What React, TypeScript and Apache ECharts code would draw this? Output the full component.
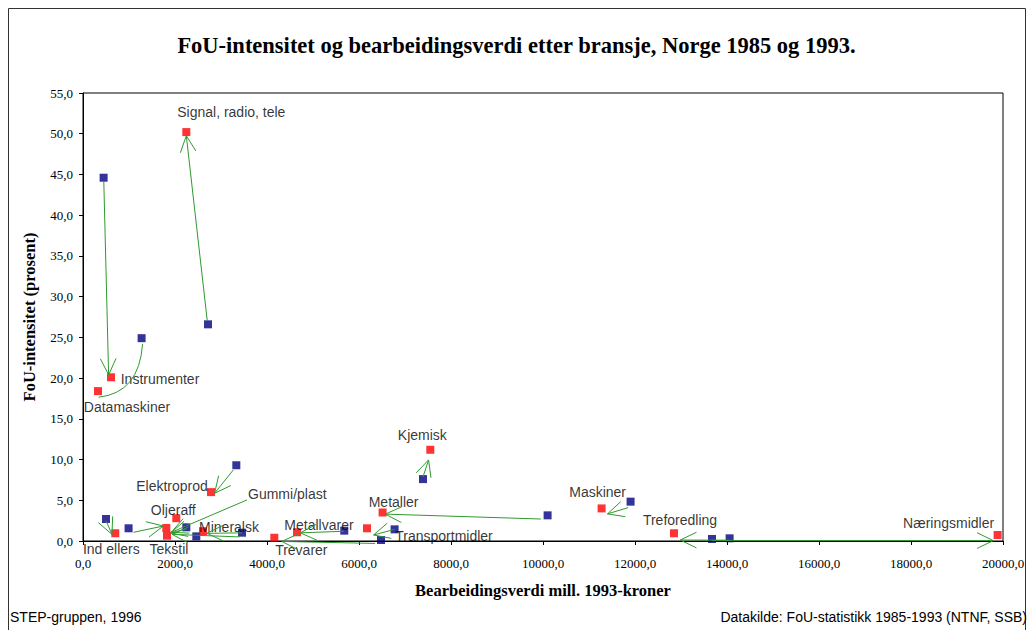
import React, { useEffect, useRef } from "react";
import * as echarts from "echarts";

// Bransjer (categories)
const categories = [
  "Signal, radio, tele",
  "Instrumenter",
  "Datamaskiner",
  "Kjemisk",
  "Elektroprod",
  "Gummi/plast",
  "Oljeraff",
  "Ind ellers",
  "Tekstil",
  "Mineralsk",
  "Metallvarer",
  "Trevarer",
  "Metaller",
  "Transportmidler",
  "Maskiner",
  "Treforedling",
  "Næringsmidler",
];

// 1993 (red): bearbeidingsverdi (mill. kr) and FoU-intensitet (%)
const x1993 = [2246, 609, 326, 7550, 2783, 1811, 2028, 702, 1826, 2609, 4652, 4159, 6513, 6174, 11274, 12848, 19883];
const y1993 = [50.2, 20.1, 18.4, 11.2, 6.0, 1.6, 2.8, 0.95, 0.65, 1.2, 1.07, 0.4, 3.5, 1.56, 4.0, 0.95, 0.74];

// 1985 (blue)
const x1985 = [2717, 448, 1274, 7391, 3333, 2246, 991, 500, 2463, 3457, 5680, 6478, 10100, 6774, 11904, 13674, 14057];
const y1985 = [26.6, 44.6, 24.9, 7.6, 9.3, 1.68, 1.56, 2.7, 0.57, 1.02, 1.27, 0.12, 3.15, 1.43, 4.83, 0.25, 0.33];

// Drawn arrows: [fromX, fromY, toX, toY] in data units
const arrows = [
  [2702, 27.0, 2246, 49.75],
  [452, 44.2, 557, 20.4],
  [7391, 7.86, 7513, 9.95],
  [3267, 8.72, 2861, 5.86],
  [3565, 5.04, 1920, 1.07],
  [1100, 1.07, 1746, 1.84],
  [500, 2.5, 630, 0.82],
  [2246, 1.5, 1902, 0.98],
  [3400, 0.5, 1935, 0.82],
  [3457, 1.0, 2696, 0.94],
  [5680, 1.2, 4724, 1.0],
  [6350, -0.3, 4322, -0.05],
  [6774, 1.43, 6317, 0.74],
  [9952, 2.7, 6572, 3.3],
  [11850, 4.1, 11402, 3.33],
  [14057, 0.1, 12985, 0.12],
  [13674, 0.05, 19789, 0.05],
];

// Curved connector (Datamaskiner): [startX, startY, ctrlX, ctrlY, endX, endY]
const curves = [[1295, 24.2, 1224, 18.2, 339, 17.65]];

// Label offsets in pixels (layout only), relative to each red point
const labelOffsets: number[][] = [
  [45, -20], [49, 2], [29, 16], [-8, -15], [-39, -6], [121, -34], [-3, -8], [-4, 16], [2, 13],
  [26, -4], [22, -7], [27, 12], [11, -10], [77, 8], [-4, -16], [6, -13], [-49, -12],
];

const GREEN = "#2f9a2f";
const SERIF = "'Liberation Serif', 'Times New Roman', serif";
const SANS = "'Liberation Sans', Arial, sans-serif";

const fmt = (v: number) => v.toFixed(1).replace(".", ",");

export default function App() {
  const ref = useRef<HTMLDivElement>(null);
  useEffect(() => {
    if (!ref.current) return;
    const chart = echarts.init(ref.current, undefined, { renderer: "svg" });

    const redData = categories.map((name, i) => ({
      name,
      value: [x1993[i], y1993[i]],
      label: { offset: labelOffsets[i] },
    }));
    const blueData = categories.map((name, i) => ({ name, value: [x1985[i], y1985[i]] }));

    const option: any = {
      animation: false,
      backgroundColor: "#fff",
      title: {
        text: "FoU-intensitet og bearbeidingsverdi etter bransje, Norge 1985 og 1993.",
        left: "center",
        top: 29,
        textStyle: { fontFamily: SERIF, fontWeight: "bold", fontSize: 22.5, color: "#000" },
      },
      grid: { left: 83, right: 30, top: 93, bottom: 89, show: true, borderColor: "#000", borderWidth: 1 },
      xAxis: {
        type: "value",
        min: 0,
        max: 20000,
        interval: 2000,
        name: "Bearbeidingsverdi mill. 1993-kroner",
        nameLocation: "middle",
        nameGap: 41,
        nameTextStyle: { fontFamily: SERIF, fontWeight: "bold", fontSize: 16.5, color: "#000" },
        axisLine: { show: true, onZero: false, lineStyle: { color: "#000", width: 1 } },
        axisTick: { show: true, length: 4, lineStyle: { color: "#000" } },
        axisLabel: { formatter: fmt, fontFamily: SERIF, fontSize: 13, color: "#000", margin: 16 },
        splitLine: { show: false },
      },
      yAxis: {
        type: "value",
        min: 0,
        max: 55,
        interval: 5,
        name: "FoU-intensitet (prosent)",
        nameLocation: "middle",
        nameGap: 45,
        nameRotate: 90,
        nameTextStyle: { fontFamily: SERIF, fontWeight: "bold", fontSize: 16.5, color: "#000" },
        axisLine: { show: true, lineStyle: { color: "#000", width: 1 } },
        axisTick: { show: true, length: 4, lineStyle: { color: "#000" } },
        axisLabel: { formatter: fmt, fontFamily: SERIF, fontSize: 13, color: "#000", margin: 10 },
        splitLine: { show: false },
      },
      series: [
        {
          type: "scatter",
          name: "1985",
          symbol: "rect",
          symbolSize: 8,
          itemStyle: { color: "#000080" },
          data: blueData,
          z: 2,
        },
        {
          type: "scatter",
          name: "1993",
          symbol: "rect",
          symbolSize: 8,
          itemStyle: { color: "#ff0000" },
          data: redData,
          z: 3,
          label: {
            show: true,
            position: "inside",
            formatter: "{b}",
            color: "#000",
            fontFamily: SANS,
            fontSize: 14,
          },
        },
        {
          type: "custom",
          name: "piler",
          z: 4,
          clip: false,
          encode: { x: [0, 2], y: [1, 3] },
          data: arrows,
          renderItem: (params: any, api: any) => {
            const p1 = api.coord([api.value(0), api.value(1)]);
            const p2 = api.coord([api.value(2), api.value(3)]);
            const ang = Math.atan2(p2[1] - p1[1], p2[0] - p1[0]);
            const L = 18;
            const a = 0.45;
            const w1 = [p2[0] - L * Math.cos(ang - a), p2[1] - L * Math.sin(ang - a)];
            const w2 = [p2[0] - L * Math.cos(ang + a), p2[1] - L * Math.sin(ang + a)];
            const st = { stroke: GREEN, lineWidth: 1, fill: "none" };
            return {
              type: "group",
              children: [
                { type: "line", shape: { x1: p1[0], y1: p1[1], x2: p2[0], y2: p2[1] }, style: st },
                { type: "line", shape: { x1: w1[0], y1: w1[1], x2: p2[0], y2: p2[1] }, style: st },
                { type: "line", shape: { x1: w2[0], y1: w2[1], x2: p2[0], y2: p2[1] }, style: st },
              ],
            };
          },
        },
        {
          type: "custom",
          name: "kurve",
          z: 4,
          clip: false,
          encode: { x: [0, 2, 4], y: [1, 3, 5] },
          data: curves,
          renderItem: (params: any, api: any) => {
            const s = api.coord([api.value(0), api.value(1)]);
            const c = api.coord([api.value(2), api.value(3)]);
            const e = api.coord([api.value(4), api.value(5)]);
            return {
              type: "bezierCurve",
              shape: { x1: s[0], y1: s[1], cpx1: c[0], cpy1: c[1], x2: e[0], y2: e[1] },
              style: { stroke: GREEN, lineWidth: 1, fill: "none" },
            };
          },
        },
      ],
      graphic: [
        {
          type: "rect",
          z: -1,
          shape: { x: 8.5, y: 8.5, width: 1017, height: 640 },
          style: { fill: "none", stroke: "#333", lineWidth: 1 },
        },
        {
          type: "text",
          x: 10,
          y: 617,
          style: { text: "STEP-gruppen, 1996", font: `14px ${SANS}`, fill: "#000", verticalAlign: "middle", textVerticalAlign: "middle" },
        },
        {
          type: "text",
          x: 1027,
          y: 617,
          style: {
            text: "Datakilde: FoU-statistikk 1985-1993 (NTNF, SSB)",
            font: `14px ${SANS}`,
            fill: "#000",
            align: "right",
            textAlign: "right",
            verticalAlign: "middle",
            textVerticalAlign: "middle",
          },
        },
      ],
    };
    chart.setOption(option);
    return () => chart.dispose();
  }, []);
  return (
    <div
      ref={ref}
      style={{ position: "absolute", left: 0, top: 0, width: 1033, height: 630 }}
    />
  );
}
